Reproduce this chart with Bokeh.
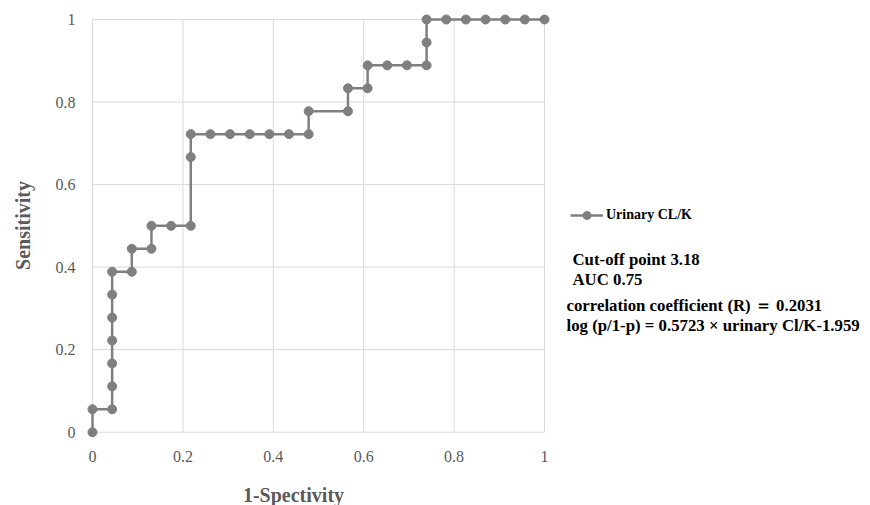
import math
from bokeh.plotting import figure
from bokeh.models import (ColumnDataSource, Label, Legend, LegendItem,
                          FixedTicker, Range1d)
from bokeh.embed import file_html
from bokeh.resources import INLINE

# ROC curve points (1-specificity, sensitivity)
fpr = [0, 0, 1/23, 1/23, 1/23, 1/23, 1/23, 1/23, 1/23,
       2/23, 2/23, 3/23, 3/23, 4/23, 5/23, 5/23, 5/23,
       6/23, 7/23, 8/23, 9/23, 10/23, 11/23, 11/23,
       13/23, 13/23, 14/23, 14/23, 15/23, 16/23, 17/23, 17/23, 17/23,
       18/23, 19/23, 20/23, 21/23, 22/23, 23/23]
tpr = [0, 1/18, 1/18, 2/18, 3/18, 4/18, 5/18, 6/18, 7/18,
       7/18, 8/18, 8/18, 9/18, 9/18, 9/18, 12/18, 13/18,
       13/18, 13/18, 13/18, 13/18, 13/18, 13/18, 14/18,
       14/18, 15/18, 15/18, 16/18, 16/18, 16/18, 16/18, 17/18, 18/18,
       18/18, 18/18, 18/18, 18/18, 18/18, 18/18]

x_ticks = [0, 0.2, 0.4, 0.6, 0.8, 1]
y_ticks = [0, 0.2, 0.4, 0.6, 0.8, 1]
tick_labels = ["0", "0.2", "0.4", "0.6", "0.8", "1"]

series_name = "Urinary CL/K"
x_title = "1-Spectivity"
y_title = "Sensitivity"
notes = ["Cut-off point 3.18", "AUC 0.75",
         "correlation coefficient (R) \uff1d 0.2031",
         "log (p/1-p) = 0.5723 \u00d7 urinary Cl/K-1.959"]

SERIF = "Liberation Serif"
GRAY = "#7f7f7f"
W, H = 870, 505
PX0, PX1 = 92, 544                # pixel of x = 0 and x = 1
PY1, PY0 = 19, 431.7              # pixel of y = 1 and y = 0
sx = (PX1 - PX0)
sy = (PY0 - PY1)


def dx(px):
    return (px - PX0) / sx


def dy(py):
    return (PY0 - py) / sy


p = figure(width=W, height=H, output_backend="svg", toolbar_location=None,
           x_range=Range1d(dx(0), dx(W)), y_range=Range1d(dy(H), dy(0)),
           min_border=0)
p.outline_line_color = None
p.xgrid.visible = False
p.ygrid.visible = False

# grid lines from tick positions
p.segment(x0=x_ticks, y0=[y_ticks[0]] * len(x_ticks), x1=x_ticks,
          y1=[y_ticks[-1]] * len(x_ticks), line_color="#d9d9d9", line_width=1)
p.segment(x0=[x_ticks[0]] * len(y_ticks), y0=y_ticks,
          x1=[x_ticks[-1]] * len(y_ticks), y1=y_ticks,
          line_color="#d9d9d9", line_width=1)

for ax, ticks, so, fl in ((p.xaxis[0], x_ticks, 19, y_ticks[0]),
                          (p.yaxis[0], y_ticks, 17, x_ticks[0])):
    ax.ticker = FixedTicker(ticks=ticks)
    ax.bounds = (ticks[0], ticks[-1])
    ax.fixed_location = fl
    ax.major_label_overrides = {t: l for t, l in zip(ticks, tick_labels)}
    ax.axis_line_color = None
    ax.major_tick_line_color = None
    ax.minor_tick_line_color = None
    ax.major_tick_out = 0
    ax.major_tick_in = 0
    ax.major_label_text_font = SERIF
    ax.major_label_text_font_size = "16px"
    ax.major_label_text_color = "#595959"
    ax.major_label_standoff = so

src = ColumnDataSource(dict(x=fpr, y=tpr))
ln = p.line("x", "y", source=src, line_color=GRAY, line_width=2.5)
sc = p.scatter("x", "y", source=src, size=9, fill_color=GRAY, line_color=GRAY)

legend = Legend(items=[LegendItem(label=series_name, renderers=[ln, sc])],
                location=(570, 280), padding=0, margin=0, spacing=0,
                glyph_width=33, glyph_height=20, label_height=20,
                label_standoff=3, border_line_alpha=0,
                background_fill_alpha=0, label_text_font=SERIF,
                label_text_font_size="14px", label_text_font_style="bold",
                label_text_color="#000000")
p.add_layout(legend, "center")

p.add_layout(Label(x=dx(293), y=dy(494), text=x_title, text_align="center",
                   text_baseline="middle", text_font=SERIF,
                   text_font_size="20px", text_font_style="bold",
                   text_color="#595959"))
p.add_layout(Label(x=dx(22), y=dy(225), text=y_title, angle=math.pi / 2,
                   text_align="center", text_baseline="middle",
                   text_font=SERIF, text_font_size="20px",
                   text_font_style="bold", text_color="#595959"))

note_px = [(572, 258.5), (572, 279), (566, 305), (566, 325)]
for t, (nx, ny) in zip(notes, note_px):
    p.add_layout(Label(x=dx(nx), y=dy(ny), text=t,
                       text_align="left", text_baseline="middle",
                       text_font=SERIF, text_font_size="16.8px",
                       text_font_style="bold", text_color="#000000"))

open("out.html", "w").write(file_html(p, INLINE))
